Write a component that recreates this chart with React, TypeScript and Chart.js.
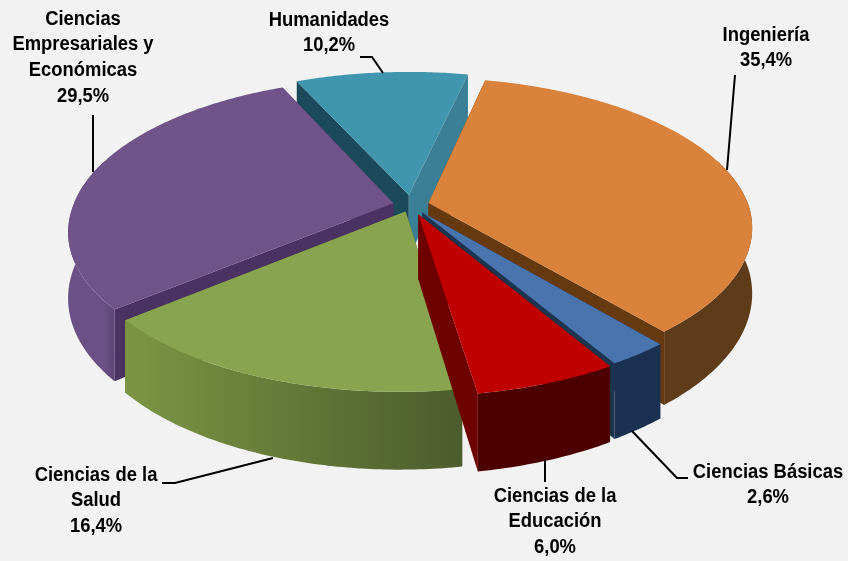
import React, { useEffect, useRef } from "react";
import { Chart, registerables } from "chart.js";

Chart.register(...registerables);

const categories = ["Ingeniería", "Ciencias Básicas", "Ciencias de la Educación", "Ciencias de la Salud", "Ciencias Empresariales y Económicas", "Humanidades"];
const shares = [35.4, 2.6, 6.0, 16.4, 29.5, 10.2];
const shareLabels = ["35,4%", "2,6%", "6,0%", "16,4%", "29,5%", "10,2%"];
const labelLines = [["Ingeniería"], ["Ciencias Básicas"], ["Ciencias de la", "Educación"], ["Ciencias de la", "Salud"], ["Ciencias", "Empresariales y", "Económicas"], ["Humanidades"]];

const faceColors = ["#d9823b", "#4a74ad", "#c00000", "#88a44e", "#6f5389", "#3f96ae"];
const rimFrom = ["#5e3c1a", "#1b3152", "#4d0000", "#4c5c2c", "#5c4474", "#2f6a7c"];
const rimTo = ["#5e3c1a", "#1b3152", "#4d0000", "#7c9544", "#6a5085", "#2f6a7c"];
const startWall = ["#5e3c1a", "#1b3152", "#6e0000", "#5c7030", "#4a3262", "#1b4a5a"];
const endWall = ["#66390f", "#1b3450", "#6e0000", "#5c7030", "#4a3262", "#3a7f95"];
const explode = [18, 20, 22, 15, 18, 22];

const labelAnchor = [[766, 35], [768, 472], [555, 496], [96, 475], [83, 19], [329, 20]];
const leaders = [
  [[735, 75], [727, 170]],
  [[688, 478], [677, 478], [632, 431]],
  [[545, 460], [545, 482]],
  [[162, 483], [175, 483], [273, 458]],
  [[93, 115], [93, 172]],
  [[360, 57], [372, 57], [383, 73]],
];

const CX = 411, CY = 205, K = 0.46, P = 0.17, DEPTH = 64, SHEAR = 0.015;

const pie3d = {
  id: "pie3d",
  beforeDatasetDraw(chart: any) {
    const ctx = chart.ctx as CanvasRenderingContext2D;
    const arcs = chart.getDatasetMeta(0).data.map((el: any, i: number) => ({ el, i }));
    const midOf = (a: any) => (a.el.startAngle + a.el.endAngle) / 2;
    arcs.sort((a: any, b: any) => Math.sin(midOf(a)) - Math.sin(midOf(b)));
    for (const { el, i } of arcs) {
      const R = el.outerRadius;
      const mid = (el.startAngle + el.endAngle) / 2;
      const off = el.options.offset;
      const ox = Math.cos(mid) * off, oy = Math.sin(mid) * off;
      const pr = (r: number, a: number, z = 0): [number, number] => {
        const u = ox + r * Math.cos(a), v = oy + r * Math.sin(a);
        const s = 1 / (1 - (P * v) / R);
        return [CX + u * s - SHEAR * Math.max(v, 0), CY + (K * v + z) * s];
      };
      const poly = (pts: [number, number][], fill: any) => {
        ctx.beginPath();
        pts.forEach((p, n) => (n ? ctx.lineTo(p[0], p[1]) : ctx.moveTo(p[0], p[1])));
        ctx.closePath();
        ctx.fillStyle = fill;
        ctx.fill();
      };
      const a0 = el.startAngle, a1 = el.endAngle;
      poly([pr(0, a0), pr(R, a0), pr(R, a0, DEPTH), pr(0, a0, DEPTH)], startWall[i]);
      poly([pr(0, a1), pr(R, a1), pr(R, a1, DEPTH), pr(0, a1, DEPTH)], endWall[i]);
      const steps = Math.max(16, Math.ceil((a1 - a0) * 80));
      const angles: number[] = [];
      for (let n = 0; n <= steps; n++) angles.push(a0 + ((a1 - a0) * n) / steps);
      const visible = angles.filter((a) => Math.sin(a) > -0.3);
      if (visible.length > 1) {
        const xa = pr(R, visible[0])[0];
        const xb = pr(R, visible[visible.length - 1])[0];
        const g = ctx.createLinearGradient(xa, 0, xb === xa ? xa + 1 : xb, 0);
        g.addColorStop(0, rimFrom[i]);
        g.addColorStop(1, rimTo[i]);
        const top = visible.map((a) => pr(R, a));
        const bottom = visible.map((a) => pr(R, a, DEPTH)).reverse();
        poly([...top, ...bottom], g);
      }
      poly([pr(0, a0), ...angles.map((a) => pr(R, a))], faceColors[i]);
    }
    return false;
  },
  afterDraw(chart: any) {
    const ctx = chart.ctx as CanvasRenderingContext2D;
    ctx.save();
    ctx.strokeStyle = "#000";
    ctx.lineWidth = 2;
    leaders.forEach((line) => {
      ctx.beginPath();
      line.forEach((p, n) => (n ? ctx.lineTo(p[0], p[1]) : ctx.moveTo(p[0], p[1])));
      ctx.stroke();
    });
    ctx.fillStyle = "#000";
    ctx.font = 'bold 20px "Liberation Sans"';
    ctx.textAlign = "center";
    ctx.textBaseline = "middle";
    labelLines.forEach((lines, i) => {
      [...lines, shareLabels[i]].forEach((text, n) => {
        ctx.save();
        ctx.translate(labelAnchor[i][0], labelAnchor[i][1] + n * 25.8);
        ctx.scale(0.92, 1);
        ctx.fillText(text, 0, 0);
        ctx.restore();
      });
    });
    ctx.restore();
  },
};

export default function App() {
  const ref = useRef<HTMLCanvasElement>(null);
  useEffect(() => {
    document.body.style.margin = "0";
    document.body.style.background = "#f2f2f2";
    const chart = new Chart(ref.current!, {
      type: "pie",
      data: {
        labels: categories,
        datasets: [{ data: shares, backgroundColor: faceColors, offset: explode, borderWidth: 0 }],
      },
      options: {
        responsive: false,
        animation: false,
        rotation: 12.5,
        radius: 320,
        plugins: { legend: { display: false }, tooltip: { enabled: false } },
      } as any,
      plugins: [pie3d as any],
    });
    return () => chart.destroy();
  }, []);
  return <canvas ref={ref} width={848} height={561} style={{ display: "block", background: "#f2f2f2" }} />;
}
